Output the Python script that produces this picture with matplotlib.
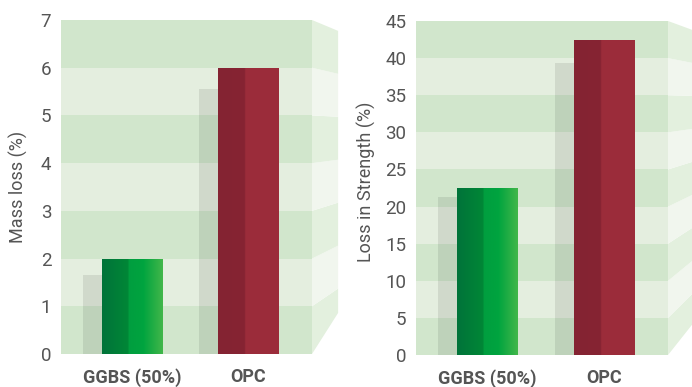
import numpy as np
import matplotlib.pyplot as plt
from matplotlib.patches import Polygon
from matplotlib.colors import to_rgb

plt.rcParams['font.family'] = ['Roboto', 'DejaVu Sans']

categories = ['GGBS (50%)', 'OPC']

mass_loss = [2.0, 6.0]
mass_loss_back = [1.65, 5.55]

strength_loss = [22.5, 42.5]
strength_loss_back = [21.3, 39.4]

BAND_DARK = '#d1e6cc'
BAND_LIGHT = '#e4eedf'
SIDE_DARK = '#e3f0de'
SIDE_LIGHT = '#f1f6ee'
TEXT = '#555555'

GREEN_STOPS = [(0.0, '#00733a'), (0.43, '#008736'), (0.44, '#009e3f'),
               (0.68, '#00a43f'), (1.0, '#42b74a')]
RED_STOPS = [(0.0, '#842332'), (0.44, '#862433'), (0.45, '#9b2c3a'), (1.0, '#9c2d3b')]

WIDTH = 0.52
BACK_SHIFT = 0.16


def gradient_image(stops, n=200):
    t = np.linspace(0, 1, n)
    pos = [s[0] for s in stops]
    cols = np.array([to_rgb(s[1]) for s in stops])
    img = np.stack([np.interp(t, pos, cols[:, c]) for c in range(3)], axis=-1)
    return img[np.newaxis, :, :]


def draw_panel(ax, values, back, step, top, label, vc, k, bottom_r):
    nb = int(round(top / step))
    for i in range(nb):
        ax.axhspan(i * step, (i + 1) * step, color=BAND_DARK if i % 2 == 0 else BAND_LIGHT,
                   lw=0, zorder=0)
        # side wall of the box, in axes fraction
        f0, f1 = i / nb, (i + 1) / nb
        g0 = bottom_r if i == 0 else vc + (f0 - vc) * k
        g1 = vc + (f1 - vc) * k
        ax.add_patch(Polygon([(1, f0), (1.104, g0), (1.104, g1), (1, f1)],
                             closed=True, transform=ax.transAxes, clip_on=False,
                             facecolor=SIDE_DARK if i % 2 == 0 else SIDE_LIGHT, lw=0))

    x = np.arange(len(values))
    ax.bar(x - BACK_SHIFT, back, width=WIDTH, color='black', alpha=0.085, lw=0, zorder=1)
    bars = ax.bar(x, values, width=WIDTH, color='none', lw=0, zorder=2)
    for bar, stops in zip(bars, [GREEN_STOPS, RED_STOPS]):
        x0, h = bar.get_x(), bar.get_height()
        im = ax.imshow(gradient_image(stops), extent=[x0, x0 + WIDTH, 0, h],
                       aspect='auto', zorder=2)
        im.set_clip_path(bar)

    ax.set_xlim(-0.61, 1.55)
    ax.set_ylim(0, top)
    ax.set_yticks(np.arange(0, top + step / 2, step))
    ax.set_xticks(x)
    ax.set_xticklabels(categories, fontsize=13, fontweight='bold', color=TEXT)
    ax.tick_params(axis='y', length=0, pad=7, labelsize=13.5, labelcolor=TEXT)
    ax.tick_params(axis='x', length=0, pad=10)
    for s in ax.spines.values():
        s.set_visible(False)
    ax.set_ylabel(label, fontsize=13, color=TEXT)


fig = plt.figure(figsize=(6.92, 3.87), dpi=100)
ax1 = fig.add_axes([0.0882, 0.0853, 0.3627, 0.863])
ax2 = fig.add_axes([0.6012, 0.0827, 0.3642, 0.863])

draw_panel(ax1, mass_loss, mass_loss_back, 1, 7, 'Mass loss (%)', 0.674, 0.9, 0.123)
draw_panel(ax2, strength_loss, strength_loss_back, 5, 45, 'Loss in Strength (%)', 0.76, 0.88, 0.099)
ax1.yaxis.set_label_coords(-0.131, 0.5)
ax2.yaxis.set_label_coords(-0.159, 0.52)

fig.savefig('out.png', dpi=100)
